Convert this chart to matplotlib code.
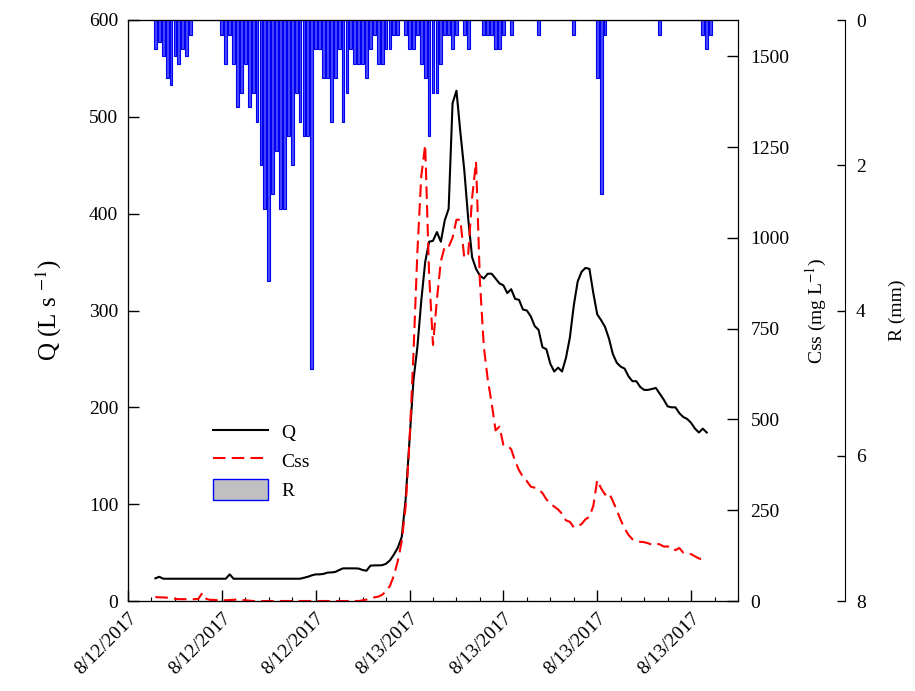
import numpy as np
import pandas as pd
import matplotlib
matplotlib.use('Agg')
import matplotlib.pyplot as plt
import matplotlib.dates as mdates
from matplotlib.lines import Line2D
from matplotlib.patches import Patch

plt.rcParams['font.family'] = ['Liberation Serif', 'DejaVu Serif']
plt.rcParams['mathtext.fontset'] = 'stix'

# 10-minute records, storm of 12-13 Aug 2017
q = [23.4, 25, 23, 23, 23, 23, 23, 23, 23, 23, 23, 23, 23, 23, 23, 23, 23, 23, 23,
     27.5, 23, 23, 23, 23, 23, 23, 23, 23, 23, 23, 23, 23, 23, 23, 23, 23, 23, 23,
     24, 25, 26.5, 27.5, 27.5, 28, 29.3, 29.5, 30, 32, 33.7, 33.7, 33.7, 33.7, 33.5,
     32, 31.3, 36.5, 36.8, 36.8, 37, 38.5, 42, 48, 55, 66, 105, 166, 228, 262, 310,
     350, 371, 372, 381, 371, 393, 405, 514, 527, 484, 445, 395, 355, 343, 336, 333,
     338, 338, 333, 328, 326, 318, 322, 312, 311, 301, 300, 294, 284, 280, 262, 260,
     245, 237, 241, 237, 251, 272, 305, 330, 340, 344, 343, 318, 296, 290, 283, 271,
     255, 246, 242, 240, 232, 227, 227, 221, 218, 218, 219, 220, 214, 208, 201, 200,
     200, 194, 190, 188, 184, 178, 174, 178, 174]

css = [11, 10, 10, 9, 8, 6, 5, 5, 5, 5, 5, 6, 22, 6, 3, 3, 2, 2, 2, 3, 3, 5, 3, 2, 1,
       0, 0, 0, 0, 0, 0, 0, 0, 0, 0, 0, 0, 0, 0, 0, 0, 0, 0, 0, 0, 0, 0, 0, 0, 0, 0, 0, 0,
       2, 4, 6, 10, 12, 17, 27, 42, 70, 110, 165, 260, 440, 680, 960, 1170, 1256, 900,
       705, 830, 935, 976, 975, 1000, 1050, 1050, 945, 955, 1110, 1210, 880, 700, 610,
       545, 470, 480, 430, 428, 418, 385, 360, 342, 330, 315, 312, 308, 297, 280, 268,
       260, 252, 240, 222, 218, 203, 205, 212, 225, 232, 262, 333, 310, 293, 298, 275,
       250, 223, 200, 182, 170, 166, 163, 162, 159, 155, 158, 156, 150, 150, 150, 140,
       146, 133, 131, 129, 123, 117, 115, 115]

rain = [0.4, 0.3, 0.5, 0.8, 0.9, 0.5, 0.6, 0.4, 0.5, 0.2,
        0, 0, 0, 0, 0, 0, 0,
        0.2, 0.6, 0.2, 0.6, 1.2, 1.0, 0.6, 1.2, 1.0, 1.4, 2.0, 2.6, 3.6, 2.4, 1.8, 2.6,
        2.6, 1.6, 2.0, 1.0, 1.4, 1.6, 1.6, 4.8, 0.4,
        0.4, 0.8, 0.8, 1.4, 0.8, 0.4, 1.4, 1.0, 0.4, 0.6, 0.6, 0.6, 0.8, 0.4, 0.2, 0.6,
        0.6, 0.4, 0.4, 0.2, 0.2, 0,
        0.2, 0.4, 0.4, 0.2, 0.6, 0.8, 1.6, 1.0, 1.0, 0.6, 0.2, 0.2, 0.4, 0.2, 0,
        0.2, 0.4, 0, 0, 0,
        0.2, 0.2, 0.2, 0.4, 0.4, 0.2, 0, 0.2, 0, 0, 0, 0, 0, 0, 0.2,
        0, 0, 0, 0, 0, 0, 0, 0, 0.2, 0, 0, 0, 0, 0,
        0.8, 2.4, 0.2, 0, 0, 0, 0, 0, 0, 0, 0, 0, 0, 0, 0, 0, 0.2,
        0, 0, 0, 0, 0, 0, 0, 0, 0, 0, 0.2, 0.4, 0.2]

t = pd.date_range('2017-08-12 13:10', periods=len(q), freq='10min')
t_rain = pd.date_range('2017-08-12 13:10', periods=len(rain), freq='10min')

fig = plt.figure(figsize=(9.15, 6.91), dpi=100)
ax = fig.add_axes([128/915, 1-601/691, 610/915, 581/691])
ax2 = ax.twinx()
ax3 = ax.twinx()
ax3.spines['right'].set_position(('axes', (845-128)/610))

ax.plot(t, q, color='black', lw=1.5, zorder=3)
ax2.plot(t, css, color='red', lw=1.5, dashes=(6, 3))
ax3.bar(t_rain, rain, width=0.72/144, color='#4848ff', edgecolor='#0000f0', lw=0.8)

ax.set_xlim(pd.Timestamp('2017-08-12 12:00'), pd.Timestamp('2017-08-13 14:00'))
ax.set_ylim(0, 600)
ax2.set_ylim(0, 1600)
ax3.set_ylim(8, 0)

ax.xaxis.set_major_locator(mdates.HourLocator(byhour=[0, 4, 8, 12, 16, 20]))
ax.xaxis.set_minor_locator(mdates.HourLocator())
ax.xaxis.set_major_formatter(mdates.DateFormatter('%-m/%d/%Y'))
ax.set_yticks(np.arange(0, 601, 100))
ax2.set_yticks(np.arange(0, 1501, 250))
ax3.set_yticks([0, 2, 4, 6, 8])

ax.tick_params(axis='both', which='major', direction='in', length=8, width=1, labelsize=14)
ax.tick_params(axis='x', which='minor', direction='in', length=3, width=0.8)
ax.tick_params(axis='x', which='major', pad=6)
ax.tick_params(axis='y', which='major', pad=7)
for lab in ax.get_xticklabels():
    lab.set_rotation(45)
    lab.set_ha('right')
    lab.set_rotation_mode('anchor')
ax2.tick_params(axis='y', direction='in', length=8, width=1, labelsize=14, pad=9)
ax3.tick_params(axis='y', direction='in', length=6, width=1, labelsize=14, pad=8)

ax.set_ylabel('Q (L s $^{-1}$)', fontsize=18, labelpad=18)
ax2.set_ylabel('Css (mg L$^{-1}$)', fontsize=14, labelpad=10)
ax3.set_ylabel('R (mm)', fontsize=14, labelpad=16)

handles = [Line2D([], [], color='black', lw=1.5),
           Line2D([], [], color='red', lw=1.5, dashes=(6, 3)),
           Patch(facecolor='#c0c0c0', edgecolor='blue', lw=1)]
ax3.legend(handles, ['Q', 'Css', 'R'], loc='upper left', bbox_to_anchor=(0.11, 0.34),
           frameon=False, fontsize=14, handlelength=2.85, handleheight=1.3,
           labelspacing=0.4, handletextpad=0.7)

fig.savefig('out.png', dpi=100)
